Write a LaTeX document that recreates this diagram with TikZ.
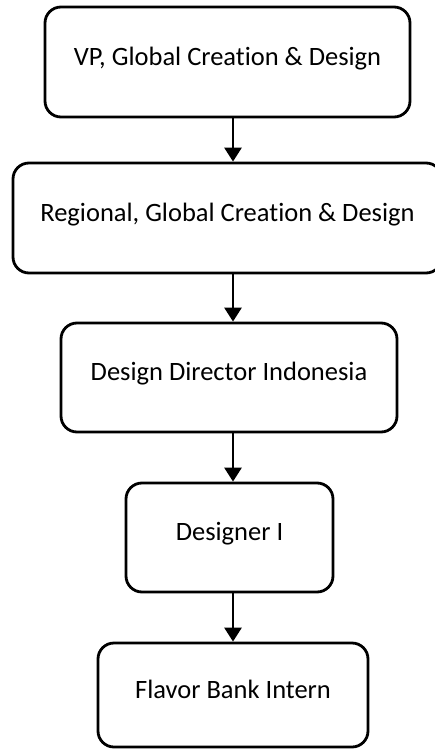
\documentclass[tikz,border=0pt]{standalone}
\usepackage{fontspec}
\setmainfont{Carlito}[Ligatures={NoCommon}]
\usetikzlibrary{arrows.meta}

\tikzset{
  orgbox/.style={draw, line width=2.8pt, rounded corners=16pt, inner sep=0pt,
    text height=0.64em, text depth=0pt, font=\fontsize{26.5}{32}\selectfont},
  orgarrow/.style={line width=2.8pt, -{Triangle[width=17pt,length=14pt]}}
}

\begin{document}
\begin{tikzpicture}[x=1pt,y=-1pt]
\useasboundingbox (0,0) rectangle (434,749);
\node (vp) at (227.5,62.0) [orgbox, minimum width=365pt, minimum height=110pt] {VP, Global Creation \& Design};
\node (regional) at (227.5,218.0) [orgbox, minimum width=429pt, minimum height=110pt] {Regional, Global Creation \& Design};
\node (director) at (229.0,377.5) [orgbox, minimum width=336pt, minimum height=109pt] {Design Director Indonesia};
\node (designer) at (229.5,537.5) [orgbox, minimum width=207pt, minimum height=109pt] {Designer I};
\node (intern) at (233.0,695.0) [orgbox, minimum width=270pt, minimum height=104pt] {Flavor Bank Intern};
\draw [orgarrow] (vp.south -| intern.north) -- (regional.north -| intern.north);
\draw [orgarrow] (regional.south -| intern.north) -- (director.north -| intern.north);
\draw [orgarrow] (director.south -| intern.north) -- (designer.north -| intern.north);
\draw [orgarrow] (designer.south -| intern.north) -- (intern.north);
\end{tikzpicture}
\end{document}
